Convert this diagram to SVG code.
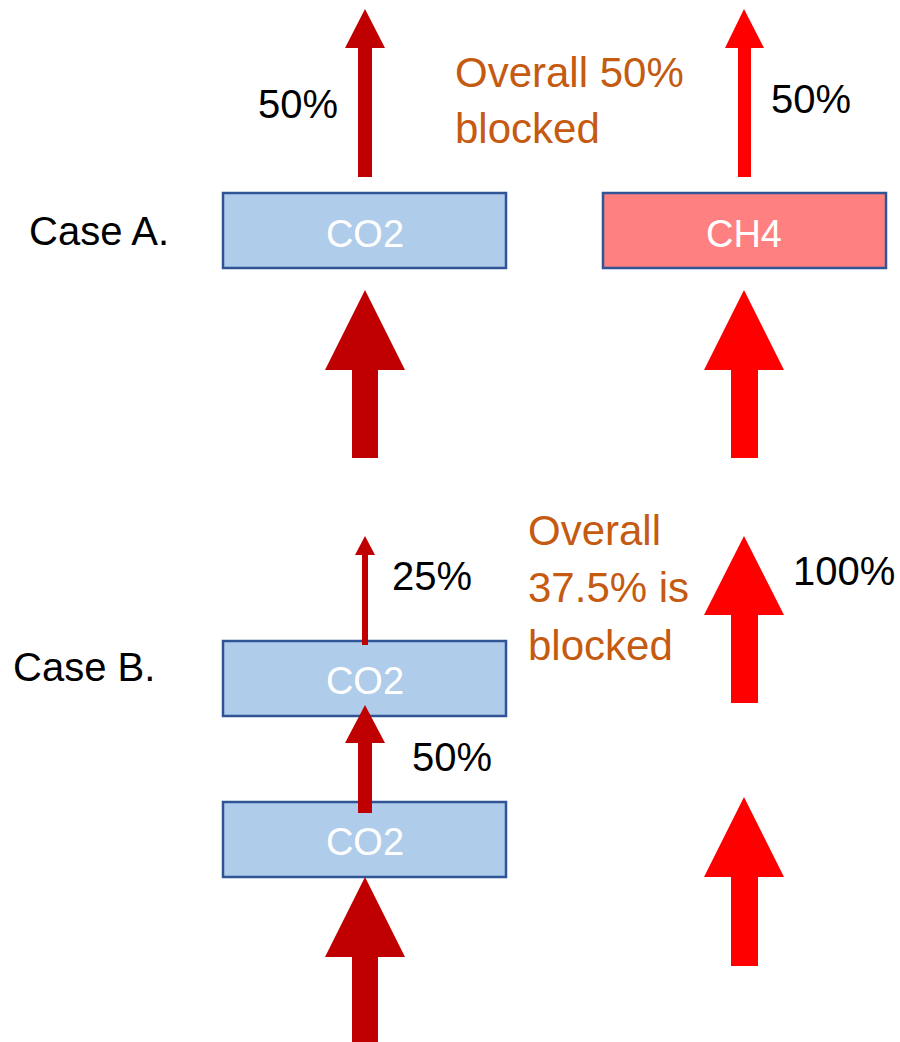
<svg xmlns="http://www.w3.org/2000/svg" width="900" height="1042" viewBox="0 0 900 1042">
<style>
text{font-family:"Liberation Sans",Arial,sans-serif}
.box-co2{fill:#AFCDEA;stroke:#2F5597;stroke-width:2.5}
.box-ch4{fill:#FF8080;stroke:#2F5597;stroke-width:2.5}
.boxt{fill:#FFFFFF;font-size:38px;text-anchor:middle}
.lbl{fill:#000000;font-size:40px}
.note{fill:#C55A11;font-size:42px}
.dark{fill:#C00000}
.red{fill:#FF0000}
</style>
<rect width="900" height="1042" fill="#FFFFFF"/>
<g id="caseA-label"><text class="lbl" x="29" y="245">Case A.</text></g>
<g id="caseA-co2">
  <rect class="box-co2" x="223" y="193" width="283" height="75"/>
  <text class="boxt" x="365" y="247">CO2</text>
</g>
<g id="caseA-ch4">
  <rect class="box-ch4" x="603" y="193" width="283" height="75"/>
  <text class="boxt" x="744" y="247">CH4</text>
</g>
<g id="caseA-co2-pct"><text class="lbl" x="258" y="118">50%</text></g>
<g id="caseA-ch4-pct"><text class="lbl" x="771" y="113">50%</text></g>
<g id="caseA-note">
  <text class="note" x="455" y="87">Overall 50%</text>
  <text class="note" x="455" y="143">blocked</text>
</g>
<g id="caseB-label"><text class="lbl" x="13" y="681">Case B.</text></g>
<g id="caseB-co2-top">
  <rect class="box-co2" x="223" y="641" width="283" height="75"/>
  <text class="boxt" x="365" y="694">CO2</text>
</g>
<g id="caseB-co2-bottom">
  <rect class="box-co2" x="223" y="802" width="283" height="75"/>
  <text class="boxt" x="365" y="855">CO2</text>
</g>
<g id="caseB-pct25"><text class="lbl" x="392" y="590">25%</text></g>
<g id="caseB-pct50"><text class="lbl" x="412" y="771">50%</text></g>
<g id="caseB-pct100"><text class="lbl" x="793" y="585">100%</text></g>
<g id="caseB-note">
  <text class="note" x="528" y="545">Overall</text>
  <text class="note" x="528" y="602">37.5% is</text>
  <text class="note" x="528" y="660">blocked</text>
</g>
<g id="connectors">
  <!-- Case A -->
  <polygon class="dark" points="365,9 385,48 372,48 372,177 358,177 358,48 345,48"/>
  <polygon class="red" points="744,9 764,48 751,48 751,177 738,177 738,48 725,48"/>
  <polygon class="dark" points="365,290 405,370 378,370 378,458 352,458 352,370 325,370"/>
  <polygon class="red" points="744,290 784,370 758,370 758,458 731,458 731,370 704,370"/>
  <!-- Case B -->
  <polygon class="dark" points="365,536 375,555 368,555 368,645 362,645 362,555 355,555"/>
  <polygon class="dark" points="365,705 385,743 372,743 372,813 358,813 358,743 345,743"/>
  <polygon class="red" points="744,536 784,615 758,615 758,703 731,703 731,615 704,615"/>
  <polygon class="dark" points="365,877 405,957 378,957 378,1042 352,1042 352,957 325,957"/>
  <polygon class="red" points="744,797 784,877 758,877 758,966 731,966 731,877 704,877"/>
</g>
</svg>
